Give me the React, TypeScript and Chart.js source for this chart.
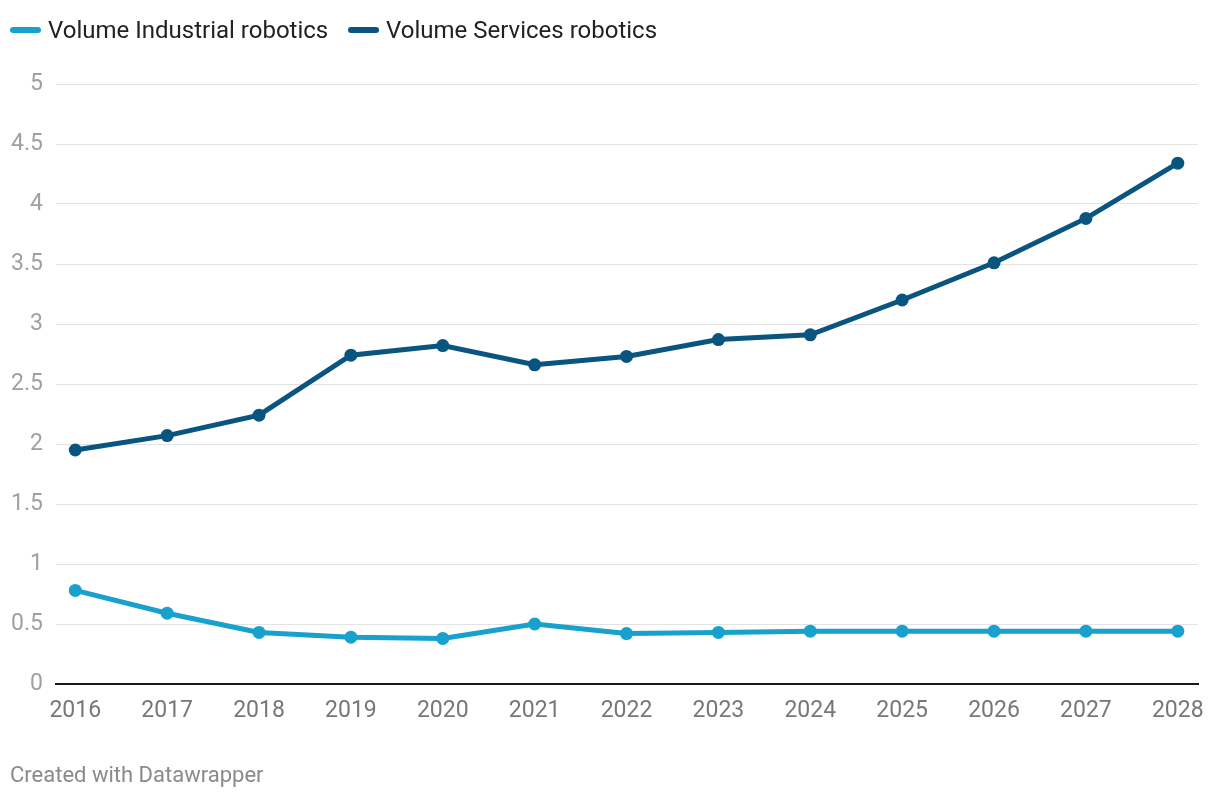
import React, { useEffect, useRef } from "react";
import { Chart, registerables } from "chart.js";

Chart.register(...registerables);

const years = [2016, 2017, 2018, 2019, 2020, 2021, 2022, 2023, 2024, 2025, 2026, 2027, 2028];
const industrial = [0.78, 0.59, 0.43, 0.39, 0.38, 0.5, 0.42, 0.43, 0.44, 0.44, 0.44, 0.44, 0.44];
const services = [1.95, 2.07, 2.24, 2.74, 2.82, 2.66, 2.73, 2.87, 2.91, 3.2, 3.51, 3.88, 4.34];
const seriesNames = ["Volume Industrial robotics", "Volume Services robotics"];
const colors = ["#18a1cd", "#09557f"];
const creditText = "Created with Datawrapper";

const FONT = "Roboto, 'Noto Sans', sans-serif";

export default function App() {
  const ref = useRef<HTMLCanvasElement | null>(null);

  useEffect(() => {
    document.body.style.margin = "0";
    const ctx = ref.current!;
    const mk = (vals: number[]) => vals.map((v, i) => ({ x: years[i], y: v }));
    const chart = new Chart(ctx, {
      type: "line",
      data: {
        datasets: [
          {
            label: seriesNames[1],
            data: mk(services),
            borderColor: colors[1],
            backgroundColor: colors[1],
            borderWidth: 5,
            pointRadius: 6.5,
            pointBorderWidth: 0,
            pointBackgroundColor: colors[1],
            tension: 0,
          },
          {
            label: seriesNames[0],
            data: mk(industrial),
            borderColor: colors[0],
            backgroundColor: colors[0],
            borderWidth: 5,
            pointRadius: 6.5,
            pointBorderWidth: 0,
            pointBackgroundColor: colors[0],
            tension: 0,
          },
        ],
      },
      options: {
        animation: false,
        responsive: false,
        maintainAspectRatio: false,
        layout: { padding: { top: 84, right: 22, bottom: 76, left: 0 } },
        plugins: { legend: { display: false }, tooltip: { enabled: false } },
        scales: {
          x: {
            type: "linear",
            min: 2015.79,
            max: 2028.22,
            afterBuildTicks: (axis: any) => {
              axis.ticks = years.map((v) => ({ value: v }));
            },
            afterFit: (axis: any) => {
              axis.height = 40;
            },
            grid: { display: false, drawTicks: false },
            border: { display: true, color: "#1a1a1a", width: 2 },
            ticks: {
              color: "#777777",
              font: { family: FONT, size: 23 },
              padding: 13,
              maxRotation: 0,
              autoSkip: false,
              callback: (v: any) => String(v),
            },
          },
          y: {
            min: 0,
            max: 5,
            afterFit: (axis: any) => {
              axis.width = 56;
            },
            grid: { color: "#e3e3e3", lineWidth: 1, drawTicks: false },
            border: { display: false },
            ticks: {
              stepSize: 0.5,
              color: "#a0a0a0",
              font: { family: FONT, size: 23 },
              padding: 13,
              callback: (v: any) => String(v),
            },
          },
        },
      },
    });
    return () => chart.destroy();
  }, []);

  const legendItem = (i: number, left: number) => (
    <div
      key={i}
      style={{
        position: "absolute",
        left,
        top: 15,
        height: 30,
        display: "flex",
        alignItems: "center",
        fontFamily: FONT,
        fontSize: 24,
        color: "#222222",
        whiteSpace: "nowrap",
      }}
    >
      <span
        style={{
          display: "inline-block",
          width: 31,
          height: 6,
          borderRadius: 3,
          background: colors[i],
          marginRight: 7,
        }}
      />
      {seriesNames[i]}
    </div>
  );

  return (
    <div style={{ position: "relative", width: 1220, height: 800, background: "#fff" }}>
      <canvas ref={ref} width={1220} height={800} style={{ position: "absolute", left: 0, top: 0 }} />
      {legendItem(0, 10)}
      {legendItem(1, 348)}
      <div
        style={{
          position: "absolute",
          left: 10,
          top: 762,
          fontFamily: FONT,
          fontSize: 22,
          color: "#8a8a8a",
          whiteSpace: "nowrap",
        }}
      >
        {creditText}
      </div>
    </div>
  );
}
